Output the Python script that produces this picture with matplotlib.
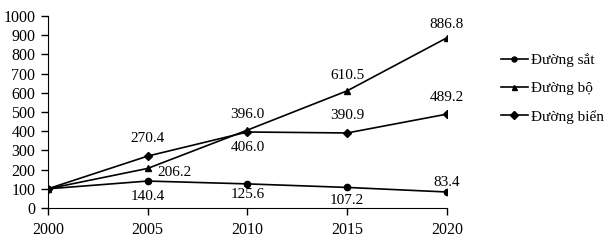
import matplotlib
matplotlib.use("Agg")
import matplotlib.pyplot as plt

plt.rcParams['font.family'] = ['Liberation Serif', 'DejaVu Serif']

years = [2000, 2005, 2010, 2015, 2020]
duong_sat = [100, 140.4, 125.6, 107.2, 83.4]
duong_bo = [100, 206.2, 406.0, 610.5, 886.8]
duong_bien = [100, 270.4, 396.0, 390.9, 489.2]

# label offsets in pixels (dx, dy) for each point after 2000
off_sat = [(0, -15), (0, -11), (0, -13), (0, 9)]
off_bo = [(27, -4), (0, -17), (0, 15), (0, 13)]
off_bien = [(0, 18), (0, 17), (0, 17), (0, 17)]

fig = plt.figure(figsize=(6.14, 2.43), dpi=100)
ax = fig.add_axes([0.078, 0.144, 0.65, 0.79])

ax.plot(years, duong_sat, color='black', lw=1.2, marker='o', ms=4.5, label='Đường sắt')
ax.plot(years, duong_bo, color='black', lw=1.2, marker='^', ms=4.5, label='Đường bộ')
ax.plot(years, duong_bien, color='black', lw=1.2, marker='D', ms=4.5, label='Đường biển')

for series, offs in [(duong_sat, off_sat), (duong_bo, off_bo), (duong_bien, off_bien)]:
    for x, y, (dx, dy) in zip(years[1:], series[1:], offs):
        ax.annotate(f'{y:.1f}', (x, y), xytext=(dx, dy), textcoords='offset pixels',
                    ha='center', va='center', fontsize=11)

ax.set_xlim(2000, 2020)
ax.set_ylim(0, 1000)
ax.set_xticks(years)
ax.set_yticks(range(0, 1001, 100))
ax.spines['top'].set_visible(False)
ax.spines['right'].set_visible(False)
ax.tick_params(labelsize=11.5, length=5, width=1, color='black')
ax.tick_params(axis='y', pad=4)
ax.tick_params(axis='x', pad=5)

ax.legend(loc='center left', bbox_to_anchor=(1.10, 0.623), frameon=False, fontsize=11,
          handlelength=1.8, labelspacing=0.95, handletextpad=0.2, markerscale=0.8)

fig.savefig('out.png', dpi=100)
